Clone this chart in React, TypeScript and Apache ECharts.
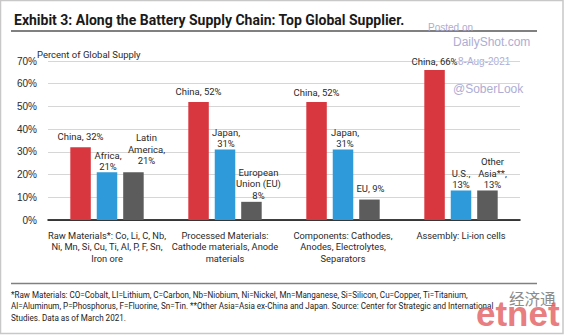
import React, { useEffect, useRef } from "react";
import * as echarts from "echarts";

const categories = [
  "Raw Materials*: Co, Li, C, Nb,\nNi, Mn, Si, Cu, Ti, Al, P, F, Sn,\nIron ore",
  "Processed Materials:\nCathode materials, Anode\nmaterials",
  "Components: Cathodes,\nAnodes, Electrolytes,\nSeparators",
  "Assembly: Li-ion cells",
];
const chinaValues = [32, 52, 52, 66];
const secondValues = [21, 31, 31, 13];
const thirdValues = [21, 8, 9, 13];
const chinaLabels = ["China, 32%", "China, 52%", "China, 52%", "China, 66%"];
const secondLabels = ["Africa,\n21%", "Japan,\n31%", "Japan,\n31%", "U.S.,\n13%"];
const thirdLabels = ["Latin\nAmerica,\n21%", "European\nUnion (EU)\n8%", "EU, 9%", "Other\nAsia**,\n13%"];
const yTicks = [0, 10, 20, 30, 40, 50, 60, 70];

const TITLE = "Exhibit 3: Along the Battery Supply Chain: Top Global Supplier.";
const Y_NAME = "Percent of Global Supply";
const FOOTNOTE =
  "*Raw Materials: CO=Cobalt, LI=Lithium, C=Carbon, Nb=Niobium, Ni=Nickel, Mn=Manganese, Si=Silicon, Cu=Copper, Ti=Titanium,\n" +
  "Al=Aluminum, P=Phosphorus, F=Fluorine, Sn=Tin. **Other Asia=Asia ex-China and Japan. Source: Center for Strategic and International\n" +
  "Studies. Data as of March 2021.";

const BODY = "Roboto, 'Liberation Sans', sans-serif";
const SANS = "'Liberation Sans', Arial, sans-serif";
const WM = "#adadd4";

// label placement tweaks (distance above bar, horizontal nudge)
const chinaDist = [5.5, 5, 3.5, 3];
const secondDist = [0, 0, 0, 0];
const secondDx = [1, 1, 2, 0];
const thirdDist = [6, 1, 5, 0];
const thirdDx = [13, 7, 1, 5];

function makeData(values: number[], labels: string[], dist: number[], dx: number[]) {
  return values.map((v, i) => ({
    value: v,
    label: { formatter: labels[i], distance: dist[i], offset: [dx[i], 0] },
  }));
}

export default function App() {
  const ref = useRef<HTMLDivElement>(null);
  useEffect(() => {
    document.body.style.margin = "0";
    const chart = echarts.init(ref.current!, null, { renderer: "svg" });
    const labelStyle = {
      show: true,
      position: "top" as const,
      fontFamily: BODY,
      fontSize: 9.5,
      lineHeight: 11.5,
      color: "#2a2a2a",
      align: "center" as const,
    };
    chart.setOption({
      animation: false,
      backgroundColor: "#ffffff",
      grid: { left: 48, right: 44, top: 61, bottom: 115, containLabel: false },
      xAxis: {
        type: "category",
        data: categories,
        axisLine: { lineStyle: { color: "#000000", width: 1.5 } },
        axisTick: { show: false },
        axisLabel: {
          interval: 0,
          fontFamily: BODY,
          fontSize: 9.3,
          lineHeight: 11.3,
          color: "#2a2a2a",
          margin: 10,
        },
      },
      yAxis: {
        type: "value",
        min: yTicks[0],
        max: yTicks[yTicks.length - 1],
        interval: 10,
        axisLine: { show: false },
        axisTick: { show: false },
        axisLabel: {
          formatter: "{value}%",
          fontFamily: SANS,
          fontSize: 10,
          color: "#2a2a2a",
          margin: 11,
        },
        splitLine: { lineStyle: { color: "#d6d6d6", width: 1 } },
      },
      series: [
        {
          name: "China",
          type: "bar",
          barWidth: 20.5,
          barGap: "29%",
          itemStyle: { color: "#D9373F" },
          label: labelStyle,
          data: makeData(chinaValues, chinaLabels, chinaDist, [0, 0, 0, 0]),
          z: 2,
        },
        {
          name: "Second",
          type: "bar",
          barWidth: 20.5,
          barGap: "29%",
          itemStyle: { color: "#2E9AD9" },
          label: labelStyle,
          data: makeData(secondValues, secondLabels, secondDist, secondDx),
          z: 2,
        },
        {
          name: "Third",
          type: "bar",
          barWidth: 20.5,
          barGap: "29%",
          itemStyle: { color: "#5C5C5C" },
          label: labelStyle,
          data: makeData(thirdValues, thirdLabels, thirdDist, thirdDx),
          z: 2,
        },
      ],
      graphic: [
        {
          type: "rect",
          shape: { x: 0.5, y: 0.5, width: 562.5, height: 333 },
          style: { fill: "none", stroke: "#c8c8c8", lineWidth: 1.5 },
          silent: true,
        },
        {
          type: "text",
          x: 14,
          y: 20,
          style: {
            text: TITLE,
            fontFamily: BODY,
            fontWeight: "bold",
            fontSize: 14,
            fill: "#1a1a1a",
            verticalAlign: "middle",
          },
        },
        {
          type: "line",
          shape: { x1: 11, y1: 31, x2: 537, y2: 31 },
          style: { stroke: "#808080", lineWidth: 2 },
        },
        {
          type: "text",
          x: 37,
          y: 54,
          style: {
            text: Y_NAME,
            fontFamily: BODY,
            fontSize: 9.5,
            fill: "#2a2a2a",
            verticalAlign: "middle",
          },
        },
        {
          type: "text",
          x: 428,
          y: 27,
          style: { text: "Posted on", fontFamily: SANS, fontSize: 10, fill: WM, verticalAlign: "middle" },
        },
        {
          type: "text",
          x: 453,
          y: 42,
          style: { text: "DailyShot.com", fontFamily: SANS, fontSize: 12, fill: WM, verticalAlign: "middle" },
        },
        {
          type: "text",
          x: 458,
          y: 61,
          style: { text: "8-Aug-2021", fontFamily: SANS, fontSize: 10, fill: WM, verticalAlign: "middle" },
        },
        {
          type: "text",
          x: 453,
          y: 89,
          style: { text: "@SoberLook", fontFamily: SANS, fontSize: 12, fill: WM, verticalAlign: "middle" },
        },
        {
          type: "line",
          shape: { x1: 11, y1: 283.5, x2: 537, y2: 283.5 },
          style: { stroke: "#808080", lineWidth: 1.5 },
        },
        {
          type: "text",
          x: 11,
          y: 289.5,
          scaleX: 0.9,
          style: {
            text: FOOTNOTE,
            fontFamily: BODY,
            fontSize: 9,
            lineHeight: 11.2,
            fill: "#222222",
            verticalAlign: "top",
          },
        },
        {
          type: "text",
          x: 509,
          y: 298,
          style: {
            text: "经济通",
            fontFamily: "'Noto Sans CJK SC', sans-serif",
            fontSize: 15.5,
            fill: "#8c8c8c",
            verticalAlign: "middle",
          },
          z: 10,
        },
        {
          type: "text",
          x: 476,
          y: 313,
          style: {
            text: "etnet",
            fontFamily: SANS,
            fontWeight: "bold",
            fontSize: 35,
            fill: "rgba(226, 90, 92, 0.8)",
            verticalAlign: "middle",
          },
          z: 10,
        },
      ],
    });
    return () => chart.dispose();
  }, []);
  return (
    <div
      ref={ref}
      style={{ position: "absolute", left: 0, top: 0, width: 564, height: 335 }}
    />
  );
}
